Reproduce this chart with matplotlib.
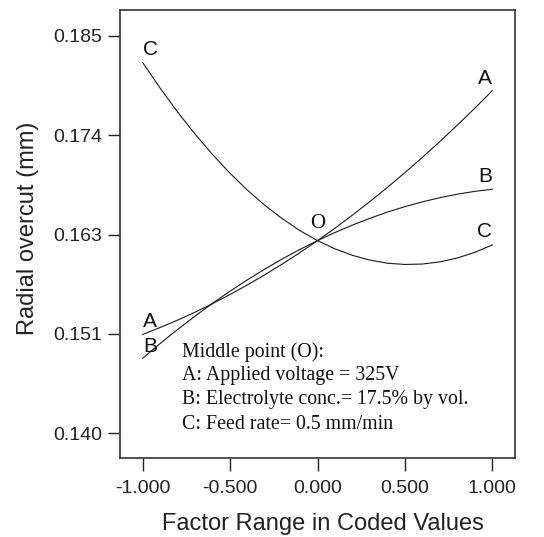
import matplotlib
matplotlib.use("Agg")
import matplotlib.pyplot as plt

# Data
x_coded = [-1.0, -0.9, -0.8, -0.7, -0.6, -0.5, -0.4, -0.3, -0.2, -0.1, 0.0,
           0.1, 0.2, 0.3, 0.4, 0.5, 0.6, 0.7, 0.8, 0.9, 1.0]
curve_A = [0.15120, 0.15198, 0.15282, 0.15372, 0.15469, 0.15572, 0.15681,
           0.15797, 0.15919, 0.16047, 0.16182, 0.16323, 0.16471, 0.16625,
           0.16785, 0.16952, 0.17125, 0.17304, 0.17490, 0.17682, 0.17880]
curve_B = [0.14850, 0.15017, 0.15176, 0.15328, 0.15473, 0.15610, 0.15739,
           0.15861, 0.15976, 0.16083, 0.16182, 0.16274, 0.16358, 0.16435,
           0.16505, 0.16567, 0.16621, 0.16668, 0.16708, 0.16740, 0.16764]
curve_C = [0.18198, 0.17908, 0.17637, 0.17387, 0.17156, 0.16944, 0.16752,
           0.16580, 0.16428, 0.16295, 0.16182, 0.16089, 0.16015, 0.15961,
           0.15926, 0.15912, 0.15917, 0.15941, 0.15985, 0.16049, 0.16133]

x_ticks = [-1.0, -0.5, 0.0, 0.5, 1.0]
x_tick_labels = ["-1.000", "-0.500", "0.000", "0.500", "1.000"]
y_ticks = [0.140, 0.15125, 0.1625, 0.17375, 0.185]
y_tick_labels = ["0.140", "0.151", "0.163", "0.174", "0.185"]

info_lines = ["Middle point (O):",
              "A: Applied voltage = 325V",
              "B: Electrolyte conc.= 17.5% by vol.",
              "C: Feed rate= 0.5 mm/min"]

sans = ["Liberation Sans", "DejaVu Sans"]
serif = ["Liberation Serif", "DejaVu Serif"]

fig = plt.figure(figsize=(5.44, 5.37), dpi=100)
ax = fig.add_axes([120/544, 1-458/537, 395/544, 448/537])

lc = "#1a1a1a"
for ys in (curve_A, curve_B, curve_C):
    ax.plot(x_coded, ys, color=lc, lw=0.8)

ax.set_xlim(-1.13, 1.13)
ax.set_ylim(0.13720, 0.18794)
ax.set_xticks(x_ticks)
ax.set_xticklabels(x_tick_labels, family=sans, fontsize=14)
ax.set_yticks(y_ticks)
ax.set_yticklabels(y_tick_labels, family=sans, fontsize=14)
ax.tick_params(axis="x", direction="out", length=9, width=1, pad=7, colors="#222222")
ax.tick_params(axis="y", direction="out", length=9, width=1, pad=4, colors="#222222")
for s in ax.spines.values():
    s.set_linewidth(1.2)
    s.set_color("#333333")

ax.set_xlabel("Factor Range in Coded Values", family=sans, fontsize=17, color="#222222", va="center")
ax.set_ylabel("Radial overcut (mm)", family=sans, fontsize=17, color="#222222", va="center")
ax.xaxis.set_label_coords(0.513, -0.147)
ax.yaxis.set_label_coords(-0.232, 0.512)

lab = dict(family=sans, fontsize=15, ha="center", va="center", color="#111111")
ax.text(-0.958, 0.18341, "C", **lab)
ax.text(0.958, 0.18021, "A", **lab)
ax.text(0.958, 0.16906, "B", **lab)
ax.text(0.958, 0.16283, "C", **lab)
ax.text(-0.958, 0.15264, "A", **lab)
ax.text(-0.958, 0.14981, "B", **lab)
ax.text(0.0, 0.16379, "O", family=serif, fontsize=15, ha="center", va="center", color="#111111")

ys_info = [0.14924, 0.14649, 0.14377, 0.14105]
for t, yy in zip(info_lines, ys_info):
    ax.text(-0.776, yy, t, family=serif, fontsize=14.3, ha="left", va="center", color="#111111")

fig.savefig("out.png", dpi=100)
